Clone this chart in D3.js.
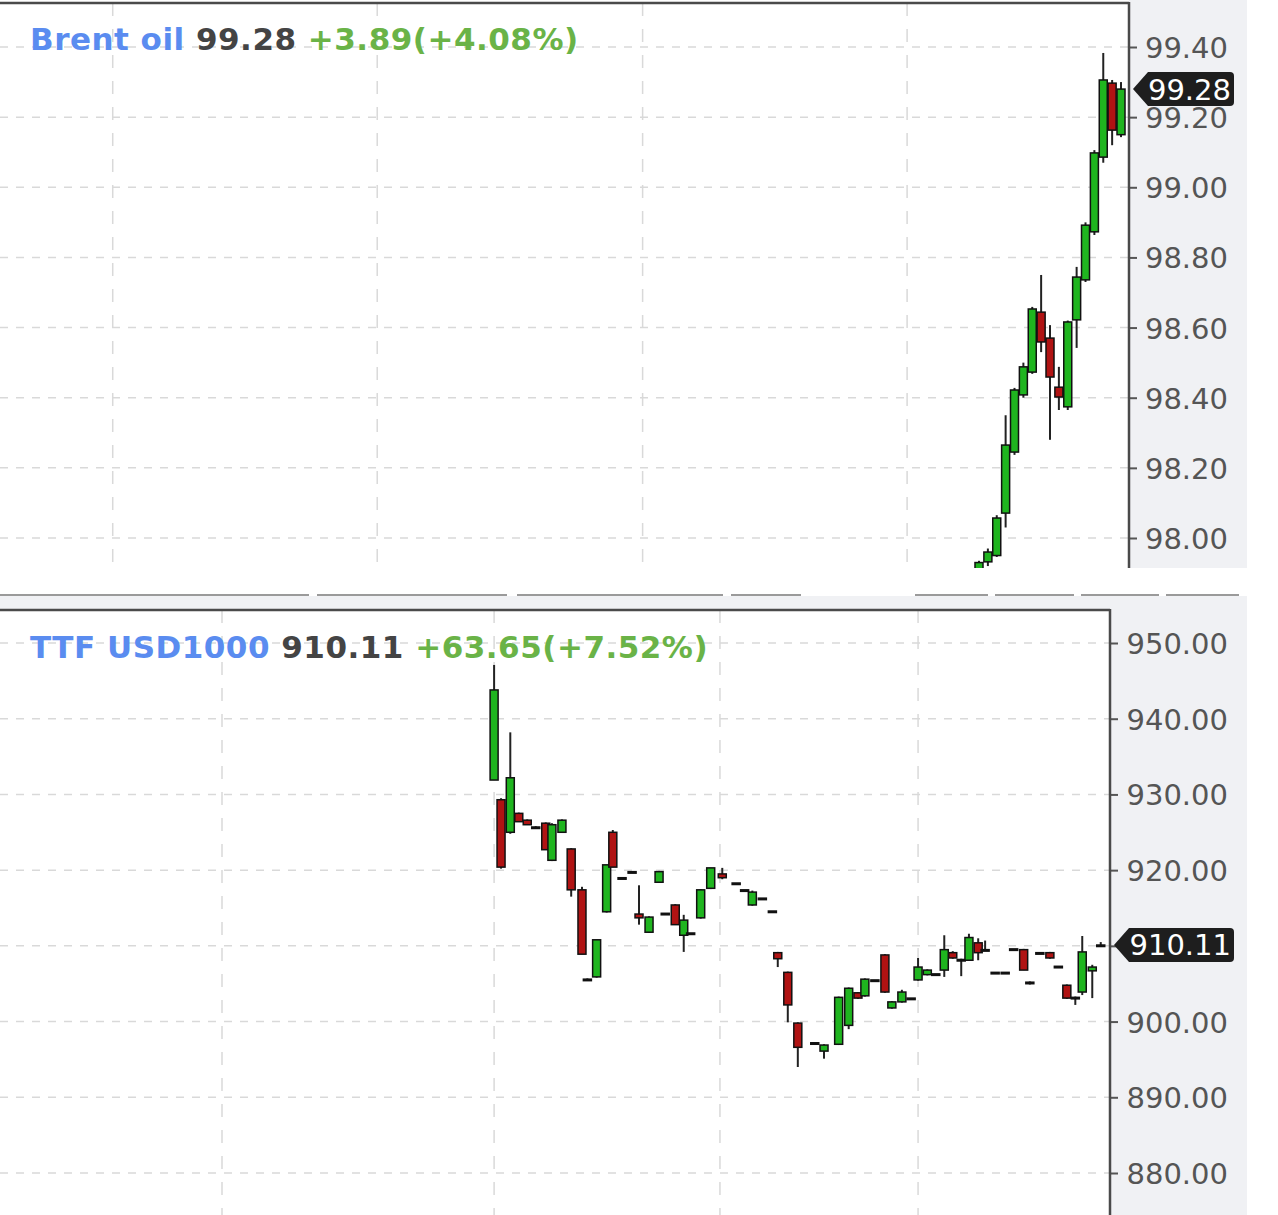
<!DOCTYPE html>
<html>
<head>
<meta charset="utf-8">
<script src="https://cdn.jsdelivr.net/npm/d3@7"></script>
<style>
  body { margin: 0; background: #fff; }
  svg { display: block; }
</style>
</head>
<body>
<div class="chart"></div>
<script>
// ---- Brent oil (top panel), bars are numbered 0..16 ----
var brentBar   = [0, 1, 2, 3, 4, 5, 6, 7, 8, 9, 10, 11, 12, 13, 14, 15, 16];
var brentOpen  = [97.90, 97.932, 97.95, 98.071, 98.245, 98.408, 98.473, 98.644, 98.570, 98.430, 98.374, 98.622, 98.736, 98.873, 99.086, 99.297, 99.150];
var brentHigh  = [97.935, 97.97, 98.065, 98.35, 98.428, 98.50, 98.659, 98.75, 98.607, 98.488, 98.62, 98.773, 98.90, 99.106, 99.383, 99.306, 99.30];
var brentLow   = [97.88, 97.92, 97.946, 98.03, 98.237, 98.40, 98.468, 98.53, 98.28, 98.365, 98.365, 98.542, 98.73, 98.864, 99.07, 99.12, 99.143];
var brentClose = [97.93, 97.96, 98.057, 98.265, 98.422, 98.488, 98.653, 98.559, 98.459, 98.402, 98.616, 98.744, 98.892, 99.098, 99.306, 99.163, 99.28];
var brentTicks = [98.00, 98.20, 98.40, 98.60, 98.80, 99.00, 99.20, 99.40];
var brentGridBars = [-97.6, -67.8, -37.9, -8.1];
var brentLast = 99.28;

// ---- TTF USD1000 (bottom panel), time in minutes ----
var ttfTime  = [641, 650, 662, 673, 684, 695, 708, 716, 729, 741, 755, 762, 774, 787, 795, 807, 820, 829, 842, 855,
                863, 876, 887, 896, 909, 922, 937, 955, 966, 976, 989, 1002, 1009, 1022, 1035, 1057, 1069, 1088, 1101, 1113,
                1122, 1135, 1148, 1157, 1170, 1182, 1191, 1203, 1214, 1225, 1236, 1247, 1257, 1269, 1278, 1291, 1304, 1315, 1328, 1336,
                1349, 1362, 1373, 1384, 1395, 1404, 1417, 1428];
var ttfOpen  = [931.9, 929.3, 925.0, 927.5, 926.6, 925.7, 926.2, 921.3, 925.0, 922.8, 917.4, 905.6, 905.9, 914.5, 925.0, 919.0, 919.8, 914.2, 911.8, 918.4,
                914.3, 915.4, 911.4, 911.7, 913.7, 917.6, 919.5, 918.3, 917.4, 915.4, 916.3, 914.6, 909.1, 906.5, 899.8, 897.2, 896.1, 897.0, 899.5, 903.8,
                903.4, 905.5, 908.8, 901.8, 902.6, 903.1, 905.5, 906.2, 906.3, 906.8, 909.1, 908.2, 908.1, 910.4, 909.5, 906.5, 906.5, 909.6, 909.5, 905.2,
                909.1, 909.1, 907.3, 904.8, 903.0, 903.9, 906.7, 910.11];
var ttfHigh  = [947.1, 929.5, 938.2, 927.6, 926.7, 925.8, 926.3, 926.2, 926.7, 922.9, 917.8, 905.7, 910.8, 920.7, 925.3, 919.0, 919.8, 918.0, 913.9, 919.9,
                914.3, 915.5, 914.1, 911.7, 917.5, 920.3, 920.3, 918.3, 917.4, 917.3, 916.3, 914.6, 909.2, 906.6, 899.9, 897.2, 897.0, 903.3, 904.5, 903.9,
                905.7, 905.5, 908.9, 902.7, 904.2, 903.1, 908.4, 906.9, 906.3, 911.4, 909.3, 908.3, 911.6, 911.0, 910.7, 906.5, 906.5, 909.6, 909.6, 905.3,
                909.1, 909.2, 907.3, 904.9, 903.3, 911.3, 907.5, 910.5];
var ttfLow   = [931.9, 920.2, 924.8, 926.4, 926.0, 925.6, 922.7, 921.2, 925.0, 916.5, 908.9, 905.5, 905.8, 914.4, 920.4, 919.0, 919.8, 912.8, 911.7, 918.3,
                914.3, 912.8, 909.2, 911.7, 913.6, 917.5, 918.8, 918.3, 917.4, 915.3, 916.3, 914.6, 907.2, 899.9, 894.0, 897.2, 895.1, 896.9, 899.0, 903.0,
                903.3, 905.5, 903.8, 901.7, 902.5, 903.1, 905.4, 906.1, 906.3, 905.9, 908.3, 906.0, 908.0, 908.1, 909.5, 906.5, 906.5, 909.6, 906.8, 904.9,
                909.1, 908.3, 907.3, 903.0, 902.2, 903.5, 903.1, 910.11];
var ttfClose = [943.8, 920.4, 932.2, 926.4, 926.0, 925.7, 922.7, 926.0, 926.6, 917.4, 908.9, 905.6, 910.8, 920.7, 920.4, 919.0, 919.8, 913.7, 913.8, 919.8,
                914.3, 912.8, 913.4, 911.7, 917.4, 920.3, 919.0, 918.3, 917.4, 917.1, 916.3, 914.6, 908.3, 902.2, 896.6, 897.2, 896.9, 903.2, 904.4, 903.1,
                905.6, 905.5, 903.9, 902.6, 903.9, 903.1, 907.2, 906.8, 906.3, 909.5, 908.4, 908.2, 911.1, 909.1, 909.5, 906.5, 906.5, 909.6, 906.8, 905.0,
                909.1, 908.4, 907.3, 903.1, 903.2, 909.2, 907.2, 910.11];
var ttfTicks = [880, 890, 900, 910, 920, 930, 940, 950];
var ttfGridTimes = [288, 641, 934, 1191];
var ttfLast = 910.11;

var svgWidth = 1278;
var svgHeight = 1215;
var axisBg = "#f0f1f4";
var upColor = "#1fb51f";
var downColor = "#b01313";

var svg = d3.select(".chart")
    .append("svg")
    .attr("width", svgWidth)
    .attr("height", svgHeight);

svg.append("rect")
    .attr("width", svgWidth)
    .attr("height", svgHeight)
    .attr("fill", "#fff");

// zip the separate arrays into candle rows
function makeRows(xs, o, h, l, c) {
    return xs.map(function (x, i) {
        return { x: x, open: o[i], high: h[i], low: l[i], close: c[i] };
    });
}

function drawPanel(p) {
    var g = svg.append("g");

    // axis strip background
    g.append("rect")
        .attr("x", p.right)
        .attr("y", p.bgTop)
        .attr("width", 1247 - p.right)
        .attr("height", p.bottom - p.bgTop)
        .attr("fill", axisBg);

    // grid
    g.append("g").selectAll("line")
        .data(p.ticks)
        .enter()
        .append("line")
        .attr("x1", 0)
        .attr("x2", p.right)
        .attr("y1", d => p.y(d))
        .attr("y2", d => p.y(d))
        .attr("stroke", "#d9d9d9")
        .attr("stroke-width", 1.5)
        .attr("stroke-dasharray", "8,8");

    g.append("g").selectAll("line")
        .data(p.gridX)
        .enter()
        .append("line")
        .attr("x1", d => p.x(d))
        .attr("x2", d => p.x(d))
        .attr("y1", p.top)
        .attr("y2", p.bottom)
        .attr("stroke", "#d9d9d9")
        .attr("stroke-width", 1.5)
        .attr("stroke-dasharray", "13,13");

    // candles, clipped to the plot
    g.append("clipPath")
        .attr("id", p.id + "-clip")
        .append("rect")
        .attr("x", 0)
        .attr("y", p.top)
        .attr("width", p.right)
        .attr("height", p.bottom - p.top);

    var candles = g.append("g")
        .attr("clip-path", `url(#${p.id}-clip)`)
        .selectAll("g")
        .data(p.rows)
        .enter()
        .append("g");

    candles.append("line")
        .attr("x1", d => p.x(d.x))
        .attr("x2", d => p.x(d.x))
        .attr("y1", d => p.y(d.high))
        .attr("y2", d => p.y(d.low))
        .attr("stroke", "#222")
        .attr("stroke-width", 2);

    candles.append("rect")
        .attr("x", d => p.x(d.x) - 4)
        .attr("y", d => p.y(Math.max(d.open, d.close)))
        .attr("width", 8)
        .attr("height", d => Math.max(1.5, Math.abs(p.y(d.open) - p.y(d.close))))
        .attr("fill", d => d.close > d.open ? upColor : (d.close < d.open ? downColor : "#222"))
        .attr("stroke", "#111")
        .attr("stroke-width", 1.5);

    // plot frame: top border and right axis line
    g.append("line")
        .attr("x1", 0).attr("x2", p.right)
        .attr("y1", p.top).attr("y2", p.top)
        .attr("stroke", "#4a4a4a")
        .attr("stroke-width", 2.5);

    var ly = p.y(p.last);

    var axis = d3.axisRight(p.y)
        .tickValues(p.ticks)
        .tickSize(8)
        .tickSizeOuter(0)
        .tickFormat(d3.format(".2f"));

    var axisG = g.append("g")
        .attr("transform", `translate(${p.right}, 0)`)
        .call(axis);

    axisG.select(".domain").remove();
    axisG.selectAll(".tick line").attr("stroke", "#555").attr("stroke-width", 2);
    axisG.selectAll(".tick text")
        .attr("x", 1228 - p.right)
        .attr("dy", "0.36em")
        .attr("text-anchor", "end")
        .attr("fill", "#555")
        .style("font-family", "DejaVu Sans")
        .style("font-size", "29px");

    // a label that would sit fully under the price flag is not shown
    axisG.selectAll(".tick text")
        .filter(d => Math.abs(p.y(d) - ly) < 8)
        .remove();

    g.append("line")
        .attr("x1", p.right).attr("x2", p.right)
        .attr("y1", p.top - 1).attr("y2", p.bottom)
        .attr("stroke", "#4a4a4a")
        .attr("stroke-width", 2.5);

    // last price flag (partly over the nearest tick label, as in the source)
    var tip = p.right + 4;
    g.append("path")
        .attr("d", `M${tip},${ly} L${tip + 15},${ly - 17} L1230,${ly - 17} Q1234,${ly - 17} 1234,${ly - 13} L1234,${ly + 13} Q1234,${ly + 17} 1230,${ly + 17} L${tip + 15},${ly + 17} Z`)
        .attr("fill", "#1e1e1e");

    g.append("text")
        .attr("x", 1231)
        .attr("y", ly)
        .attr("dy", "0.36em")
        .attr("text-anchor", "end")
        .attr("fill", "#fff")
        .style("font-family", "DejaVu Sans")
        .style("font-size", "29px")
        .text(d3.format(".2f")(p.last));

    // title line
    var title = g.append("text")
        .attr("x", 30)
        .attr("y", p.titleY)
        .style("font-family", "DejaVu Sans")
        .style("font-weight", "bold")
        .style("font-size", "31px")
        .style("letter-spacing", "0.5px");
    title.append("tspan").attr("fill", "#5a8cf0").text(p.name + " ");
    title.append("tspan").attr("fill", "#444").text(p.price + " ");
    title.append("tspan").attr("fill", "#6ab347").text(p.change);
}

// top panel
var brentX = d3.scaleLinear().domain([-110.3, 16.9]).range([0, 1129]);
var brentY = d3.scaleLinear().domain([98, 99.4]).range([538, 47]);

drawPanel({
    id: "brent",
    rows: makeRows(brentBar, brentOpen, brentHigh, brentLow, brentClose),
    x: brentX, y: brentY,
    ticks: brentTicks, gridX: brentGridBars,
    right: 1129, top: 3, bottom: 568, bgTop: 0,
    last: brentLast,
    titleY: 50,
    name: "Brent oil", price: "99.28", change: "+3.89(+4.08%)"
});

// the strip between the two panels
var gap = svg.append("g");
gap.append("rect")
    .attr("x", 0).attr("y", 596)
    .attr("width", 1247).attr("height", 14)
    .attr("fill", axisBg);

var sepSegments = [[0, 309], [317, 507], [517, 723], [731, 801], [915, 988], [995, 1074], [1081, 1159], [1166, 1239]];
gap.selectAll("line")
    .data(sepSegments)
    .enter()
    .append("line")
    .attr("x1", d => d[0]).attr("x2", d => d[1])
    .attr("y1", 595).attr("y2", 595)
    .attr("stroke", "#9a9a9a")
    .attr("stroke-width", 2);

// bottom panel
var ttfX = d3.scaleLinear().domain([0, 1440]).range([0, 1110]);
var ttfY = d3.scaleLinear().domain([880, 950]).range([1173, 643]);

drawPanel({
    id: "ttf",
    rows: makeRows(ttfTime, ttfOpen, ttfHigh, ttfLow, ttfClose),
    x: ttfX, y: ttfY,
    ticks: ttfTicks, gridX: ttfGridTimes,
    right: 1110, top: 610, bottom: 1215, bgTop: 610,
    last: ttfLast,
    titleY: 658,
    name: "TTF USD1000", price: "910.11", change: "+63.65(+7.52%)"
});
</script>
</body>
</html>
